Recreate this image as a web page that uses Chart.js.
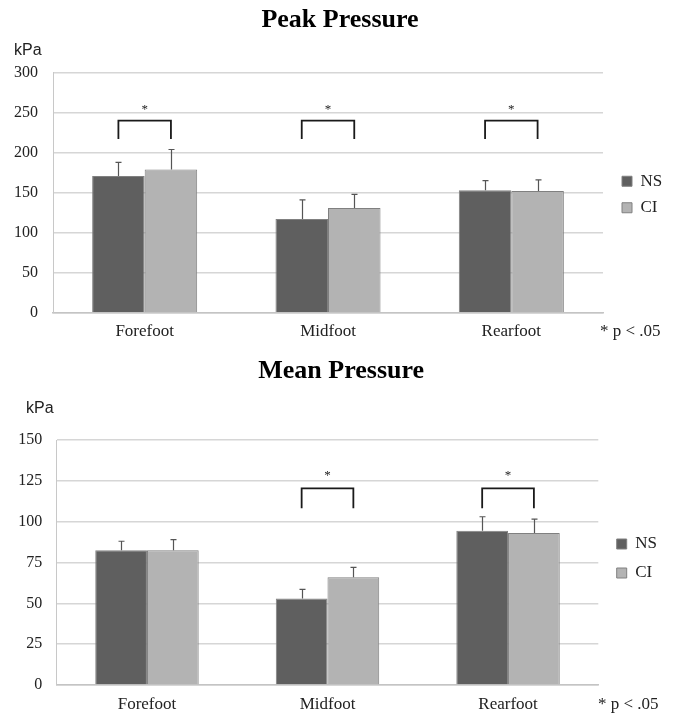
<!DOCTYPE html>
<html><head><meta charset="utf-8">
<script src="https://cdn.jsdelivr.net/npm/chart.js@4.4.1/dist/chart.umd.min.js"></script>
<style>
html,body{margin:0;padding:0;background:#fff;overflow:hidden;}
#wrap1{position:absolute;left:0;top:0;width:674px;height:350px;}
#wrap2{position:absolute;left:0;top:350px;width:674px;height:367px;}
</style></head><body>
<div id="wrap1"><canvas id="peak"></canvas></div>
<div id="wrap2"><canvas id="mean"></canvas></div>
<script>
// ---------- data ----------
const categories = ['Forefoot', 'Midfoot', 'Rearfoot'];
const seriesNames = ['NS', 'CI'];

const peakNS   = [171, 117, 153];
const peakNSsd = [17, 24, 12];
const peakCI   = [179, 131, 152];
const peakCIsd = [25, 17, 14];
const peakSig  = [true, true, true];
const peakTicks = [0, 50, 100, 150, 200, 250, 300];
const peakBracket = [240, 217, 257];   // bracket top, leg end, star (kPa)

const meanNS   = [82.5, 53, 94.5];
const meanNSsd = [5.5, 5.5, 8.5];
const meanCI   = [82.5, 66, 93];
const meanCIsd = [6.5, 6, 8.5];
const meanSig  = [false, true, true];
const meanTicks = [0, 25, 50, 75, 100, 125, 150];
const meanBracket = [120.4, 108.2, 129.6];

const unitLabel = 'kPa';
const noteLabel = '* p < .05';

// ---------- styles ----------
const SERIF = "'Liberation Serif', 'Times New Roman', serif";
const SANS = "'Liberation Sans', Arial, sans-serif";
const colNS = '#5f5f5f', colCI = '#b3b3b3', barBorder = '#808080';

const annot = {
  id: 'annot',
  afterLayout(chart, args, o) {
    const lg = chart.legend;
    if (lg) {
      lg.left += o.legendDx; lg.width = 80; lg.right = lg.left + 80;
      lg.top += o.legendDy; lg.bottom += o.legendDy;
    }
    const t = chart.titleBlock;
    if (t) { t.left += o.titleDx; t.right += o.titleDx; }
  },
  afterDatasetsDraw(chart, args, o) {
    const ctx = chart.ctx, ys = chart.scales.y;
    ctx.save();
    // error bars
    ctx.strokeStyle = '#555';
    ctx.lineWidth = 1.2;
    chart.data.datasets.forEach((ds, di) => {
      const meta = chart.getDatasetMeta(di);
      meta.data.forEach((bar, i) => {
        const v = ds.data[i], e = o.errors[di][i];
        const x = Math.round(bar.x) + 0.5;
        const y0 = ys.getPixelForValue(v), y1 = ys.getPixelForValue(v + e);
        ctx.beginPath();
        ctx.moveTo(x, y0); ctx.lineTo(x, y1);
        ctx.moveTo(x - 3, y1); ctx.lineTo(x + 3, y1);
        ctx.stroke();
      });
    });
    // significance brackets
    const m0 = chart.getDatasetMeta(0), m1 = chart.getDatasetMeta(1);
    const [bTop, bLeg, bStar] = o.bracket;
    ctx.strokeStyle = '#1a1a1a';
    ctx.lineWidth = 1.8;
    ctx.fillStyle = '#222';
    ctx.font = '13px ' + SERIF;
    ctx.textAlign = 'center';
    ctx.textBaseline = 'middle';
    o.sig.forEach((s, i) => {
      if (!s) return;
      const x0 = m0.data[i].x, x1 = m1.data[i].x;
      const yt = ys.getPixelForValue(bTop), yl = ys.getPixelForValue(bLeg);
      ctx.beginPath();
      ctx.moveTo(x0, yl); ctx.lineTo(x0, yt); ctx.lineTo(x1, yt); ctx.lineTo(x1, yl);
      ctx.stroke();
      ctx.fillText('*', (x0 + x1) / 2, ys.getPixelForValue(bStar) + 2);
    });
    ctx.restore();
  },
  afterDraw(chart, args, o) {
    const ctx = chart.ctx;
    ctx.save();
    ctx.fillStyle = '#222';
    ctx.textAlign = 'left';
    ctx.textBaseline = 'alphabetic';
    ctx.font = '16px ' + SANS;
    ctx.fillText(unitLabel, o.unitPos[0], o.unitPos[1]);
    ctx.textBaseline = 'middle';
    ctx.font = '17px ' + SERIF;
    ctx.fillText(noteLabel, o.notePos[0], o.notePos[1]);
    ctx.restore();
  }
};

function makeChart(id, title, ns, ci, nsSd, ciSd, sig, ticks, bracket, L) {
  return new Chart(document.getElementById(id), {
    type: 'bar',
    data: {
      labels: categories,
      datasets: [
        { label: seriesNames[0], data: ns, backgroundColor: colNS, borderColor: barBorder, borderWidth: 1 },
        { label: seriesNames[1], data: ci, backgroundColor: colCI, borderColor: barBorder, borderWidth: 1 }
      ]
    },
    options: {
      responsive: true,
      maintainAspectRatio: false,
      animation: false,
      events: [],
      layout: { padding: { left: 0, right: L.padRight, top: 0, bottom: 0 } },
      datasets: { bar: { barPercentage: 1, categoryPercentage: 0.573, borderSkipped: 'bottom' } },
      scales: {
        x: {
          grid: { display: false, drawTicks: false },
          border: { display: true, color: '#c4c4c4', width: 1.5 },
          ticks: { font: { family: SERIF, size: 17 }, color: '#222', padding: L.xTickPad },
          afterFit(s) { s.height = L.xHeight; }
        },
        y: {
          min: ticks[0], max: ticks[ticks.length - 1],
          afterBuildTicks(s) { s.ticks = ticks.map(v => ({ value: v })); },
          grid: { color: '#d6d6d6', lineWidth: 1.5, drawTicks: false },
          border: { display: true, color: '#c8c8c8', width: 1 },
          ticks: { font: { family: SERIF, size: 16 }, color: '#222', padding: L.yTickPad },
          afterFit(s) { s.width = L.yWidth; }
        }
      },
      plugins: {
        title: {
          display: true, text: title, color: '#000',
          font: { family: SERIF, size: 26, weight: 'bold' },
          padding: { top: L.titleTop, bottom: L.titleBottom }
        },
        legend: {
          display: true, position: 'right', maxWidth: 50,
          labels: { font: { family: SERIF, size: 17 }, color: '#222', boxWidth: 10, boxHeight: 10, padding: L.legendPad }
        },
        tooltip: { enabled: false },
        annot: {
          errors: [nsSd, ciSd], sig: sig, bracket: bracket,
          legendDx: L.legendDx, legendDy: L.legendDy, titleDx: L.titleDx,
          unitPos: L.unitPos, notePos: L.notePos
        }
      }
    },
    plugins: [annot]
  });
}

makeChart('peak', 'Peak Pressure', peakNS, peakCI, peakNSsd, peakCIsd, peakSig, peakTicks, peakBracket, {
  padRight: 21, titleTop: 4.9, titleBottom: 36.6, titleDx: 13.5, yWidth: 53, yTickPad: 15, xHeight: 37.3, xTickPad: 9,
  legendPad: 9.5, legendDx: 9.5, legendDy: 19.5, unitPos: [14, 55], notePos: [600, 332]
});
makeChart('mean', 'Mean Pressure', meanNS, meanCI, meanNSsd, meanCIsd, meanSig, meanTicks, meanBracket, {
  padRight: 25.7, titleTop: 5.4, titleBottom: 53.4, titleDx: 17, yWidth: 56.7, yTickPad: 14.4, xHeight: 32, xTickPad: 9.8,
  legendPad: 12, legendDx: 6.4, legendDy: 25, unitPos: [26, 62.7], notePos: [598, 355]
});
</script>
</body></html>
